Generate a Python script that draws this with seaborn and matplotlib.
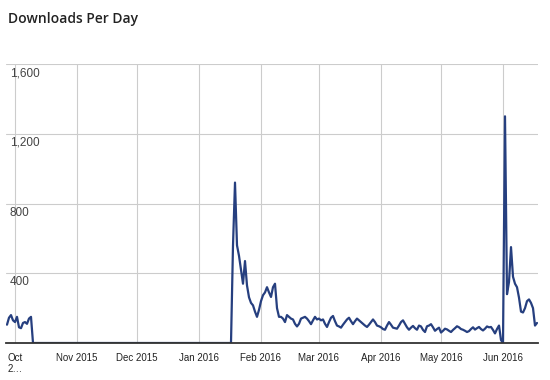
import matplotlib
matplotlib.use("Agg")
import matplotlib.pyplot as plt
import pandas as pd
import seaborn as sns

# daily downloads (Sep 27 2015 .. Jun 18 2016)
sep_2015 = [105, 145, 160, 130]
oct_2015 = [120, 150, 90, 85, 115, 120, 110, 140, 150,
            0, 0, 0, 0, 0, 0, 0, 0, 0, 0, 0,
            0, 0, 0, 0, 0, 0, 0, 0, 0, 0, 0]
nov_2015 = [0, 0, 0, 0, 0, 0, 0, 0, 0, 0,
            0, 0, 0, 0, 0, 0, 0, 0, 0, 0,
            0, 0, 0, 0, 0, 0, 0, 0, 0, 0]
dec_2015 = [0, 0, 0, 0, 0, 0, 0, 0, 0, 0,
            0, 0, 0, 0, 0, 0, 0, 0, 0, 0,
            0, 0, 0, 0, 0, 0, 0, 0, 0, 0, 0]
jan_2016 = [0, 0, 0, 0, 0, 0, 0, 0, 0, 0,
            0, 0, 0, 0, 0, 0, 0,
            560, 920, 560, 500, 420, 340, 470, 330, 262, 230, 216, 180, 150, 190]
feb_2016 = [240, 274, 290, 320, 290, 264, 320, 340, 200, 150,
            150, 140, 120, 160, 150, 140, 135, 110, 95, 110,
            140, 145, 150, 140, 125, 108, 130, 150, 135]
mar_2016 = [140, 130, 135, 110, 92, 120, 145, 155, 125, 100,
            95, 88, 105, 120, 135, 145, 125, 108, 125, 140,
            130, 120, 110, 100, 92, 105, 120, 135, 120, 100, 96]
apr_2016 = [90, 80, 76, 100, 120, 105, 88, 85, 82, 100,
            120, 130, 110, 90, 76, 88, 98, 85, 76, 100,
            95, 75, 63, 96, 100, 108, 90, 70, 80, 88]
may_2016 = [60, 70, 82, 78, 70, 63, 75, 85, 96, 90,
            80, 76, 70, 63, 68, 80, 90, 77, 85, 92,
            80, 72, 82, 95, 90, 92, 75, 55, 80, 100, 17]
jun_2016 = [0, 1300, 280, 350, 550, 380, 340, 320, 260, 180,
            175, 200, 240, 250, 230, 200, 100, 115]

month_ticks = ["2015-10-01", "2015-11-01", "2015-12-01", "2016-01-01", "2016-02-01",
               "2016-03-01", "2016-04-01", "2016-05-01", "2016-06-01"]
month_labels = ["Oct\n2…", "Nov 2015", "Dec 2015", "Jan 2016", "Feb 2016",
                "Mar 2016", "Apr 2016", "May 2016", "Jun 2016"]
y_ticks = [400, 800, 1200, 1600]
y_labels = ["400", "800", "1,200", "1,600"]


def main():
    downloads = (sep_2015 + oct_2015 + nov_2015 + dec_2015 + jan_2016 +
                 feb_2016 + mar_2016 + apr_2016 + may_2016 + jun_2016)
    dates = pd.date_range("2015-09-27", periods=len(downloads), freq="D")
    df = pd.DataFrame({"date": dates, "downloads": downloads})

    sns.set_style("white")
    fig = plt.figure(figsize=(5.5, 3.8), dpi=100)
    ax = fig.add_axes([6 / 550, 1 - 343 / 380, 532 / 550, 279 / 380])

    sns.lineplot(data=df, x="date", y="downloads", ax=ax,
                 color="#263f7f", linewidth=1.6,
                 solid_joinstyle="round", solid_capstyle="round")

    ax.set_xlim(dates[0] - pd.Timedelta(hours=12), dates[-1] + pd.Timedelta(hours=12))
    ax.set_ylim(0, 1600)

    ax.set_xticks(pd.to_datetime(month_ticks))
    ax.set_xticklabels(month_labels, fontfamily="Liberation Sans", fontsize=7, color="#222222")
    ax.get_xticklabels()[0].set_multialignment("left")
    ax.tick_params(axis="x", length=0, pad=7)

    ax.set_yticks(y_ticks)
    ax.set_yticklabels([])
    ax.tick_params(axis="y", length=0)
    for v, lab in zip(y_ticks, y_labels):
        ax.annotate(lab, xy=(0, v), xycoords=("axes fraction", "data"),
                    xytext=(4, -3), textcoords="offset pixels",
                    ha="left", va="top", fontsize=8.5,
                    fontfamily="Liberation Sans", color="#444444")

    ax.grid(True, color="#cccccc", linewidth=0.8)
    ax.set_axisbelow(True)
    for side in ["top", "left", "right"]:
        ax.spines[side].set_visible(False)
    ax.spines["bottom"].set_color("#333333")
    ax.spines["bottom"].set_linewidth(1.3)
    ax.spines["bottom"].set_zorder(3)
    ax.set_xlabel("")
    ax.set_ylabel("")

    fig.text(8 / 550, 1 - 23 / 380, "Downloads Per Day", ha="left", va="baseline",
             fontsize=10, fontfamily="Open Sans", fontweight="semibold", color="#222222")

    fig.savefig("out.png", dpi=100)
    plt.close(fig)


if __name__ == "__main__":
    main()
